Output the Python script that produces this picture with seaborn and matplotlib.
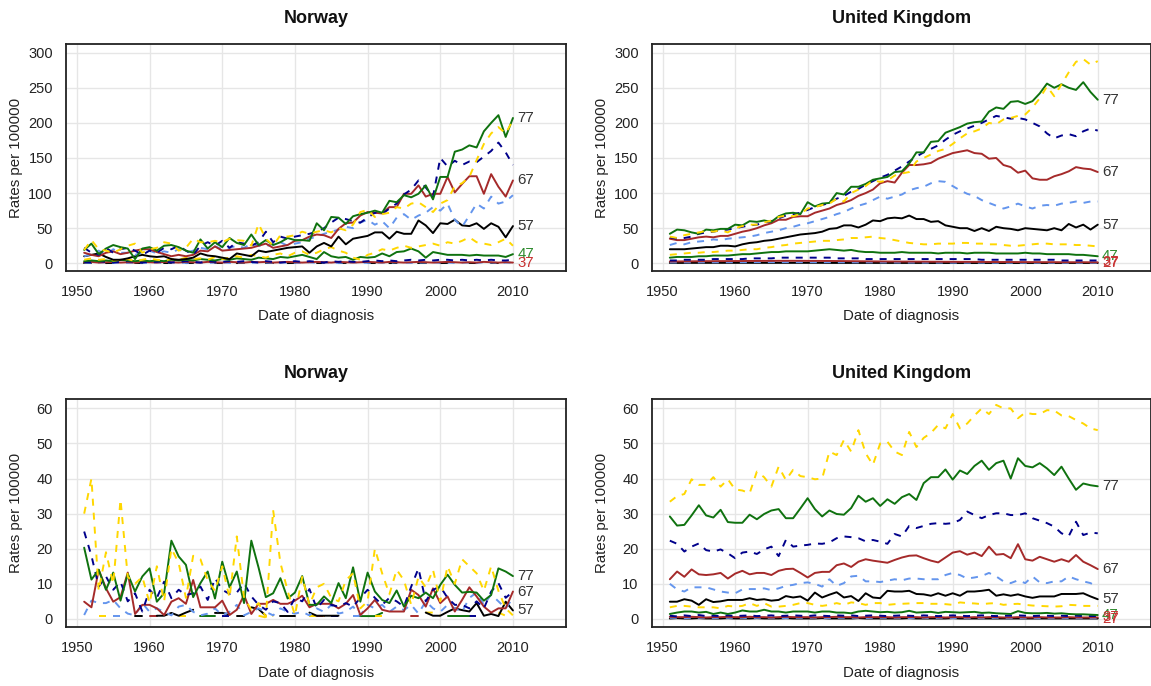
import numpy as np
import pandas as pd
import matplotlib
matplotlib.use("Agg")
import matplotlib.pyplot as plt
import seaborn as sns

nan = np.nan
YEARS = list(range(1951, 2011))
AGES = ["27", "32", "37", "42", "47", "52", "57", "62", "67", "72", "77", "82"]
LABELLED = ["77", "67", "57", "47", "37", "27"]

# ---------------- Norway, upper panel (rates per 100000) ----------------
nor_a_82 = [19, 33, 20, 18, 15, 20, 25, 28, 15, 20,
            22, 30, 28, 18, 22, 35, 30, 30, 32, 30,
            35, 33, 32, 25, 56, 35, 25, 40, 38, 40,
            45, 42, 45, 47, 44, 50, 47, 55, 73, 76,
            66, 70, 72, 80, 78, 85, 87, 80, 73, 85,
            90, 110, 114, 123, 147, 170, 185, 194, 185, 204]
nor_a_77 = [19, 28, 13, 21, 26, 23, 21, 6, 21, 23,
            18, 25, 26, 23, 18, 15, 34, 21, 30, 23,
            36, 29, 26, 41, 26, 33, 26, 30, 36, 33,
            33, 32, 57, 47, 66, 65, 56, 67, 70, 72,
            75, 72, 89, 87, 97, 94, 99, 111, 91, 123,
            123, 159, 162, 168, 165, 188, 200, 211, 180, 207]
nor_a_72 = [22, 15, 12, 22, 15, 20, 22, 18, 12, 18,
            15, 22, 20, 25, 18, 12, 25, 30, 25, 32,
            22, 30, 28, 25, 30, 45, 30, 38, 35, 38,
            40, 42, 45, 50, 58, 65, 63, 60, 58, 65,
            72, 70, 78, 85, 98, 105, 118, 108, 95, 150,
            138, 146, 140, 145, 144, 152, 160, 172, 158, 140]
nor_a_67 = [15, 12, 10, 15, 17, 13, 15, 18, 20, 20,
            16, 13, 10, 12, 10, 12, 18, 17, 24, 18,
            19, 20, 21, 22, 25, 28, 22, 24, 26, 32,
            33, 38, 41, 40, 36, 49, 57, 58, 68, 73,
            72, 71, 80, 80, 99, 99, 111, 95, 99, 99,
            123, 101, 113, 124, 124, 99, 127, 109, 95, 118]
nor_a_62 = [10, 13, 18, 12, 20, 15, 15, 12, 15, 18,
            14, 17, 15, 20, 15, 18, 22, 20, 24, 20,
            22, 25, 22, 28, 25, 24, 28, 30, 25, 28,
            30, 35, 38, 42, 45, 48, 52, 50, 58, 62,
            55, 60, 50, 65, 70, 62, 68, 72, 80, 75,
            85, 62, 52, 68, 85, 78, 95, 85, 88, 97]
nor_a_57 = [10, 12, 14, 9, 5, 5, 7, 10, 12, 10,
            9, 10, 6, 5, 6, 8, 14, 11, 10, 8,
            6, 14, 12, 10, 18, 16, 18, 20, 22, 23,
            24, 15, 24, 29, 24, 38, 27, 35, 37, 39,
            44, 44, 35, 45, 42, 42, 61, 54, 43, 57,
            56, 62, 54, 53, 57, 49, 57, 52, 37, 53]
nor_a_52 = [5, 7, 5, 6, 4, 5, 6, 3, 5, 7,
            5, 4, 6, 5, 8, 6, 7, 5, 9, 6,
            8, 10, 8, 12, 10, 8, 12, 14, 10, 15,
            17, 12, 15, 20, 23, 18, 15, 8, 5, 12,
            15, 20, 18, 22, 25, 22, 24, 26, 28, 25,
            30, 28, 32, 37, 30, 28, 26, 30, 35, 25]
nor_a_47 = [3, 4, 3, 4, 3, 5, 4, 3, 4, 3,
            4, 3, 5, 4, 5, 4, 6, 5, 4, 6,
            5, 7, 6, 5, 8, 7, 6, 9, 8, 10,
            12, 9, 6, 16, 10, 8, 9, 5, 9, 8,
            9, 14, 10, 16, 17, 21, 17, 8, 16, 14,
            12, 12, 12, 11, 12, 11, 11, 11, 9, 13]
nor_a_42 = [2, 1, 3, 2, 1, 2, 3, 2, 1, 2,
            2, 3, 1, 2, 3, 2, 1, 3, 2, 2,
            3, 2, 3, 2, 1, 3, 2, 1, 2, 3,
            2, 3, 2, 1, 3, 2, 3, 2, 2, 3,
            4, 3, 4, 3, 4, 5, 4, 5, 4, 5,
            5, 4, 5, 4, 5, 4, 5, 4, 4, 5]
nor_a_37 = [1.5, 2, 1, 1.5, 2, 1, 1.5, 1, 2, 1.5,
            1, 2, 1.5, 1, 2, 1.5, 1, 2, 1.5, 1,
            2, 1.5, 1, 2, 1.5, 2, 1, 1.5, 2, 1.5,
            1, 1.5, 2, 1.5, 1, 2, 1.5, 1, 1.5, 2,
            1.5, 1, 2, 1.5, 1, 1.5, 2, 1.5, 1, 1.5,
            2, 1.5, 1, 1.5, 1, 2, 1.5, 1, 1.5, 1]
nor_a_32 = [1, 0.5, 1, 1.5, 0.5, 1, 0.5, 1, 1, 0.5,
            1, 0.5, 1.5, 1, 0.5, 1, 1, 0.5, 1, 1.5,
            0.5, 1, 1, 0.5, 1.5, 1, 0.5, 1, 1, 0.5,
            1, 1.5, 0.5, 1, 1, 0.5, 1, 1.5, 1, 0.5,
            1, 1, 0.5, 1.5, 1, 0.5, 1, 1, 1.5, 0.5,
            1, 0.5, 1, 1, 0.5, 1.5, 1, 0.5, 1, 1]
nor_a_27 = [0.5, 0.5, nan, 0.3, 0.5, nan, nan, 0.5, 0.3, nan,
            nan, 0.5, 0.5, nan, 0.3, 0.5, nan, nan, 0.5, 0.5,
            nan, 0.3, 0.5, nan, nan, 0.5, 0.5, nan, 0.3, 0.5,
            nan, nan, 0.5, 0.5, nan, 0.3, 0.5, nan, nan, 0.5,
            0.5, nan, 0.3, 0.5, nan, nan, 0.5, 0.5, nan, 0.3,
            0.5, nan, nan, 0.5, 0.3, nan, 0.5, 0.5, nan, nan]

# ---------------- United Kingdom, upper panel ----------------
gbr_a_82 = [38, 36, 40, 42, 44, 46, 45, 47, 44, 50,
            53, 55, 55, 58, 61, 66, 68, 67, 70, 78,
            80, 83, 85, 92, 88, 100, 105, 110, 118, 116,
            118, 125, 128, 130, 145, 150, 155, 160, 163, 170,
            178, 185, 188, 192, 200, 198, 205, 207, 210, 212,
            222, 235, 252, 238, 255, 272, 287, 291, 283, 288]
gbr_a_77 = [42, 48, 47, 44, 42, 48, 47, 49, 49, 55,
            54, 60, 59, 61, 59, 67, 71, 72, 70, 87,
            81, 85, 86, 100, 98, 109, 109, 113, 119, 121,
            123, 130, 131, 142, 158, 158, 173, 174, 186, 190,
            194, 199, 201, 202, 216, 222, 220, 230, 231, 227,
            231, 242, 256, 250, 255, 250, 247, 258, 244, 233]
gbr_a_72 = [37, 35, 36, 38, 42, 44, 45, 47, 48, 50,
            52, 54, 55, 58, 60, 64, 68, 70, 72, 76,
            80, 83, 86, 92, 96, 102, 106, 112, 117, 122,
            126, 132, 138, 145, 152, 158, 163, 168, 176, 183,
            188, 192, 196, 200, 205, 210, 208, 206, 207, 205,
            200, 195, 185, 178, 182, 184, 181, 188, 192, 189]
gbr_a_67 = [35, 33, 33, 35, 37, 38, 37, 39, 39, 42,
            45, 47, 50, 54, 57, 62, 62, 66, 67, 67,
            72, 75, 78, 83, 86, 90, 96, 100, 105, 114,
            117, 115, 129, 140, 140, 141, 143, 149, 153, 157,
            159, 161, 157, 156, 149, 150, 140, 137, 129, 132,
            121, 119, 119, 124, 127, 131, 137, 135, 134, 130]
gbr_a_62 = [26, 29, 27, 30, 31, 32, 34, 33, 35, 36,
            37, 38, 40, 43, 45, 47, 50, 52, 55, 57,
            60, 63, 66, 70, 73, 78, 82, 85, 90, 95,
            92, 95, 98, 104, 107, 109, 114, 117, 116, 110,
            104, 99, 96, 90, 86, 82, 78, 81, 85, 81,
            78, 82, 83, 82, 85, 86, 88, 86, 88, 88]
gbr_a_57 = [20, 20, 20, 21, 22, 23, 23, 25, 25, 24,
            27, 29, 30, 32, 33, 35, 37, 39, 41, 42,
            43, 45, 49, 50, 54, 54, 51, 55, 61, 60,
            64, 65, 64, 68, 63, 63, 59, 60, 54, 52,
            50, 50, 46, 50, 46, 52, 50, 49, 47, 50,
            49, 48, 47, 50, 47, 56, 51, 55, 48, 55]
gbr_a_52 = [12, 13, 14, 15, 15, 16, 16, 17, 18, 18,
            19, 20, 20, 22, 23, 25, 26, 28, 29, 30,
            31, 32, 32, 33, 34, 36, 36, 37, 38, 36,
            35, 33, 31, 29, 28, 27, 27, 28, 28, 28,
            29, 29, 28, 28, 27, 27, 26, 25, 25, 26,
            27, 28, 28, 27, 27, 27, 26, 26, 25, 24]
gbr_a_47 = [8, 9, 9, 9, 10, 10, 11, 11, 11, 12,
            13, 13, 14, 15, 16, 16, 17, 17, 17, 17,
            18, 19, 20, 19, 18, 19, 17, 16, 16, 15,
            15, 15, 16, 15, 15, 15, 15, 14, 15, 15,
            15, 14, 15, 15, 15, 14, 14, 14, 14, 15,
            14, 14, 13, 13, 13, 13, 12, 12, 11, 10]
gbr_a_42 = [4, 4, 5, 5, 5, 5, 6, 6, 6, 6,
            6, 7, 7, 7, 7, 8, 8, 8, 8, 8,
            8, 8, 8, 7, 7, 7, 7, 6, 6, 6,
            6, 6, 6, 6, 6, 6, 6, 6, 6, 6,
            6, 6, 6, 5, 5, 5, 5, 5, 5, 5,
            5, 5, 5, 5, 4, 4, 4, 4, 4, 4]
gbr_a_37 = [2.5, 2.6, 2.7, 2.8, 2.9, 3.0, 3.0, 3.1, 3.1, 3.2,
            3.2, 3.3, 3.3, 3.4, 3.4, 3.5, 3.5, 3.5, 3.5, 3.4,
            3.4, 3.3, 3.3, 3.2, 3.1, 3.0, 2.9, 2.8, 2.7, 2.6,
            2.5, 2.5, 2.4, 2.4, 2.3, 2.3, 2.2, 2.2, 2.1, 2.1,
            2.0, 2.0, 2.0, 1.9, 1.9, 1.8, 1.8, 1.8, 1.7, 1.7,
            1.7, 1.6, 1.6, 1.6, 1.5, 1.5, 1.5, 1.5, 1.4, 1.4]
gbr_a_32 = [1.2, 1.2, 1.3, 1.3, 1.3, 1.4, 1.4, 1.4, 1.5, 1.5,
            1.5, 1.5, 1.6, 1.6, 1.6, 1.6, 1.6, 1.6, 1.6, 1.5,
            1.5, 1.5, 1.5, 1.4, 1.4, 1.4, 1.3, 1.3, 1.3, 1.2,
            1.2, 1.2, 1.1, 1.1, 1.1, 1.0, 1.0, 1.0, 1.0, 0.9,
            0.9, 0.9, 0.9, 0.9, 0.8, 0.8, 0.8, 0.8, 0.8, 0.8,
            0.8, 0.8, 0.8, 0.7, 0.7, 0.7, 0.7, 0.7, 0.7, 0.7]
gbr_a_27 = [0.5, 0.5, 0.5, 0.6, 0.6, 0.6, 0.6, 0.6, 0.6, 0.6,
            0.6, 0.6, 0.6, 0.6, 0.6, 0.6, 0.6, 0.6, 0.6, 0.6,
            0.6, 0.6, 0.5, 0.5, 0.5, 0.5, 0.5, 0.5, 0.5, 0.5,
            0.5, 0.5, 0.5, 0.5, 0.5, 0.5, 0.4, 0.4, 0.4, 0.4,
            0.4, 0.4, 0.4, 0.4, 0.4, 0.4, 0.4, 0.4, 0.4, 0.4,
            0.4, 0.4, 0.4, 0.4, 0.4, 0.4, 0.4, 0.4, 0.4, 0.4]

# ---------------- Norway, lower panel ----------------
nor_b_82 = [30, 40, 8, 19, 10, 34, 12, 10, 12, 4.5,
            15, 5, 20, 16, 6, 18, 17, 11, 8, 15,
            6, 23.5, 6, 2.6, 4.5, 0.5, 31, 16, 8, 1,
            12, 4, 9, 10, 6, 5, 11, 13, 3, 5,
            20, 13, 7, 14, 11, 4, 12, 9, 14, 5,
            15, 10, 17, 15, 13, 8, 15, 8, 3, 1]
nor_b_77 = [20.3, 11.2, 14, 8.3, 13.2, 5.2, 12.8, 7.8, 12.1, 14.4,
            4.9, 7.3, 22.3, 17.8, 15.4, 6.2, 10.2, 13.5, 5.8, 16.3,
            9, 13.5, 4.5, 22.3, 14.6, 6.2, 7.3, 11.6, 5.8, 7.5,
            12.2, 4, 4, 6.4, 4.5, 10.2, 5.9, 14.7, 4.9, 13.2,
            7.8, 5.4, 4.5, 8.1, 3.5, 6.6, 5.9, 7.5, 5.9, 9.7,
            12.6, 9.7, 7.5, 7.7, 7.5, 5.2, 6.8, 14.4, 13.5, 12.2]
nor_b_72 = [24.9, 18, 9.2, 12.1, 8.3, 10.6, 5, 7.3, 2.1, 8.3,
            6, 10.6, 5.9, 8.3, 6.8, 7.3, 9.2, 5.4, 11.6, 8.3,
            7.1, 7.5, 10.2, 6.4, 4, 2.6, 5, 4.5, 2, 6,
            5, 8.5, 3, 5.4, 4, 3.5, 4.5, 3.5, 6, 8.3,
            6, 4, 6, 5, 3.5, 9.2, 14.4, 5, 8.3, 9.2,
            6, 4, 4, 3, 5, 3, 7.8, 10.2, 6, 7.8]
nor_b_67 = [4.9, 3.3, 14, 8.7, 4.9, 6.2, 13.2, 1.4, 4, 4,
            3, 1.1, 4.9, 5.9, 4.3, 11.1, 3.3, 3.3, 3.3, 5.2,
            1.1, 2.6, 6.8, 1.4, 4.3, 4.3, 5.4, 4.3, 4.3, 5.2,
            6.6, 3.3, 4.3, 4.3, 4.3, 3, 4.3, 6.8, 1.1, 3,
            5.4, 2.6, 2.1, 2.1, 2.1, 8.3, 6.8, 3.5, 8.7, 4.5,
            6.4, 2.1, 5.4, 9, 6.4, 3.5, 1.8, 3, 3, 7.8]
nor_b_62 = [1.1, 5.2, 4.5, 4.5, 5.4, 3, 1.5, 1, 4.5, 2,
            3, 2, 1, 3.5, 4, 2, 1, 1.5, 3, 1,
            2, 4, 1, 2, 3, 2, 1, 3, 2, 1.5,
            2, 1, 3, 2, 4, 1.5, 2, 3.5, 1, 4,
            3, 4, 2, 3.5, 2.5, 4, 1.5, 5, 3, 2,
            4, 3, 2, 6, 7.5, 4, 7, 5, 3, 6]
nor_b_57 = [nan, nan, nan, nan, nan, nan, nan, 0.9, 0.9, nan,
            0.9, 0.9, 1.7, 0.9, 1.8, 2.6, nan, nan, 1.7, 1.7,
            1.3, nan, nan, 3.3, 2.8, 0.9, nan, 0.9, 0.9, 0.9,
            nan, 1.8, 0.9, 0.9, 0.9, 0.9, nan, nan, nan, nan,
            nan, nan, nan, nan, nan, nan, nan, 1.8, 0.9, 0.9,
            2, 3, 2.5, 2.1, 4.5, 0.9, 1.4, 0.8, 4.9, 2.4]
nor_b_52 = [nan, nan, 0.9, 0.9, nan, nan, nan, nan, nan, nan,
            nan, nan, nan, 0.9, 0.9, nan, nan, nan, nan, nan,
            nan, nan, nan, nan, 0.9, 0.4, 0.9, nan, nan, nan,
            nan, 0.9, 0.9, 0.9, nan, nan, nan, nan, nan, nan,
            0.9, 0.9, nan, nan, nan, nan, nan, 1.8, 1.8, 0.9,
            nan, nan, nan, nan, nan, nan, nan, 1.8, 0.9, nan]
nor_b_47 = [nan, nan, nan, nan, nan, nan, nan, nan, nan, nan,
            nan, nan, nan, nan, nan, nan, 0.8, 0.8, 0.8, nan,
            nan, nan, nan, nan, nan, nan, nan, nan, nan, nan,
            nan, nan, nan, nan, nan, nan, nan, nan, 0.8, 0.8,
            0.8, 1.7, nan, nan, nan, nan, nan, nan, nan, nan,
            0.8, 0.8, 0.8, 0.8, nan, nan, nan, nan, nan, nan]
nor_b_42 = [nan, nan, nan, nan, nan, nan, nan, nan, nan, nan,
            nan, nan, nan, nan, nan, nan, nan, nan, nan, 0.9,
            0.9, nan, nan, nan, nan, nan, nan, nan, nan, nan,
            nan, nan, nan, nan, 0.9, 0.9, nan, nan, nan, nan,
            nan, nan, nan, nan, nan, nan, nan, nan, nan, nan,
            nan, nan, nan, 0.9, 0.9, nan, nan, nan, nan, nan]
nor_b_37 = [nan, nan, nan, nan, nan, nan, nan, nan, nan, 0.9,
            0.9, nan, nan, nan, nan, nan, nan, nan, nan, nan,
            nan, nan, nan, nan, nan, nan, nan, nan, nan, nan,
            nan, nan, 0.9, 0.9, nan, nan, nan, nan, nan, nan,
            nan, nan, nan, nan, nan, 0.9, 0.9, nan, nan, nan,
            nan, nan, nan, nan, nan, nan, nan, nan, nan, nan]
nor_b_32 = [nan, nan, nan, nan, 0.9, 0.9, nan, nan, nan, nan,
            nan, nan, nan, nan, nan, nan, nan, nan, nan, nan,
            nan, nan, nan, nan, nan, nan, nan, nan, nan, nan,
            nan, nan, nan, nan, nan, nan, nan, 0.9, 0.9, nan,
            nan, nan, nan, nan, nan, nan, nan, nan, nan, nan,
            nan, nan, nan, nan, nan, nan, nan, nan, nan, nan]
nor_b_27 = [nan, nan, nan, nan, nan, nan, nan, nan, nan, nan,
            nan, nan, nan, nan, nan, nan, nan, nan, nan, nan,
            nan, 0.9, 0.9, nan, nan, nan, nan, nan, nan, nan,
            nan, nan, nan, nan, nan, nan, nan, nan, nan, nan,
            nan, nan, nan, nan, nan, nan, nan, nan, nan, nan,
            nan, nan, nan, nan, nan, nan, nan, nan, nan, nan]

# ---------------- United Kingdom, lower panel ----------------
gbr_b_82 = [33.4, 35.0, 35.6, 39.8, 38.2, 38.2, 40.4, 37.7, 39.8, 36.9,
            36.6, 35.8, 42.0, 40.4, 37.7, 43.4, 39.6, 42.5, 40.7, 40.4,
            39.8, 40.0, 47.7, 46.7, 51.0, 47.7, 53.8, 47.2, 43.9, 50.0,
            50.5, 47.7, 46.7, 53.3, 49.0, 51.6, 53.0, 55.3, 54.3, 58.4,
            54.3, 55.7, 58.0, 60.0, 58.4, 61.0, 60.0, 60.0, 57.2, 58.8,
            58.4, 58.4, 59.5, 59.4, 58.0, 57.8, 56.7, 55.7, 54.3, 53.8]
gbr_b_77 = [29.2, 26.6, 26.8, 29.5, 32.4, 29.5, 28.9, 31.1, 27.6, 27.4,
            27.4, 29.7, 28.4, 29.9, 30.9, 31.3, 28.7, 28.7, 31.5, 34.4,
            31.3, 29.2, 30.9, 29.9, 29.7, 31.6, 35.1, 33.4, 34.4, 32.2,
            34.1, 32.8, 34.7, 35.6, 33.9, 38.7, 40.4, 40.4, 42.6, 39.7,
            42.3, 41.3, 43.6, 45.1, 42.5, 44.4, 45.1, 40.0, 45.8, 43.6,
            43.2, 44.4, 42.9, 41.0, 43.4, 40.0, 36.8, 38.6, 38.1, 37.8]
gbr_b_72 = [22.3, 21.4, 19.2, 20.6, 21.5, 19.6, 19.2, 19.8, 18.7, 17.3,
            18.9, 19.2, 18.5, 19.8, 20.6, 17.9, 22.5, 20.6, 20.9, 21.1,
            21.5, 21.4, 21.8, 23.0, 23.5, 23.3, 23.0, 22.1, 22.5, 22.0,
            21.4, 24.2, 23.5, 26.5, 25.9, 26.5, 27.1, 27.3, 27.1, 27.3,
            28.2, 30.6, 29.6, 28.7, 29.6, 30.1, 30.1, 29.6, 29.6, 30.1,
            28.7, 28.0, 27.3, 26.3, 24.4, 23.6, 27.7, 23.9, 24.6, 24.4]
gbr_b_67 = [11.3, 13.5, 12.0, 14.1, 12.7, 12.5, 12.7, 13.1, 11.5, 12.9,
            13.7, 12.7, 13.1, 13.1, 12.5, 13.7, 14.2, 14.3, 13.1, 11.8,
            13.1, 13.4, 13.4, 15.3, 15.8, 14.8, 16.3, 17.0, 16.6, 16.3,
            16.0, 16.8, 17.5, 18.0, 18.1, 17.3, 16.6, 16.1, 17.5, 18.9,
            19.3, 18.3, 18.9, 17.9, 20.6, 18.3, 18.5, 17.3, 21.3, 17.0,
            16.6, 17.7, 17.0, 16.3, 17.0, 16.3, 18.2, 16.3, 15.3, 14.2]
gbr_b_62 = [10.0, 8.4, 7.8, 9.0, 9.0, 9.0, 8.4, 7.8, 7.5, 7.3,
            8.4, 8.5, 8.5, 8.7, 8.2, 8.7, 9.4, 9.7, 10.2, 10.4,
            10.0, 9.2, 11.3, 9.4, 10.2, 12.1, 12.3, 10.7, 10.7, 10.5,
            10.9, 11.3, 11.0, 11.5, 11.5, 11.3, 11.3, 11.3, 12.5, 13.1,
            12.5, 11.5, 11.8, 12.2, 13.1, 12.1, 10.7, 10.2, 11.0, 10.2,
            12.1, 10.4, 10.2, 10.7, 10.7, 12.1, 11.3, 10.7, 10.2, 9.0]
gbr_b_57 = [4.9, 4.9, 5.6, 5.2, 4.0, 5.6, 4.8, 5.0, 5.4, 5.4,
            5.4, 5.9, 5.4, 5.6, 5.2, 5.4, 6.5, 6.1, 6.4, 5.2,
            7.5, 6.1, 6.9, 7.6, 6.1, 6.5, 5.1, 7.3, 6.1, 5.9,
            8.0, 7.8, 7.8, 8.0, 7.1, 7.0, 6.6, 7.3, 6.6, 7.3,
            6.6, 7.8, 7.8, 8.0, 8.3, 6.6, 7.0, 6.6, 7.0, 6.4,
            6.0, 6.4, 6.4, 6.4, 7.1, 7.1, 7.1, 7.3, 6.4, 5.6]
gbr_b_52 = [3.3, 3.7, 3.7, 3.5, 3.3, 3.3, 3.3, 3.0, 3.7, 3.5,
            3.7, 4.5, 3.7, 4.5, 3.5, 3.5, 3.7, 4.0, 4.5, 4.5,
            4.0, 3.7, 4.0, 4.5, 4.0, 4.7, 4.5, 4.0, 4.5, 4.5,
            4.0, 4.2, 4.3, 4.4, 4.5, 4.5, 4.3, 4.3, 4.2, 4.0,
            4.7, 4.5, 4.4, 4.2, 4.4, 4.5, 4.0, 4.2, 4.3, 4.0,
            3.8, 3.7, 3.6, 3.5, 3.6, 4.0, 3.9, 3.7, 3.7, 3.7]
gbr_b_47 = [1.4, 1.8, 2.1, 2.1, 1.8, 2.0, 1.4, 1.8, 1.4, 1.8,
            2.4, 2.1, 2.1, 2.6, 2.1, 2.1, 1.8, 2.1, 2.1, 2.1,
            1.8, 2.1, 2.1, 1.8, 1.8, 1.6, 2.1, 2.3, 2.1, 1.9,
            2.0, 1.8, 1.9, 2.3, 1.8, 1.9, 2.0, 1.7, 2.0, 1.9,
            1.8, 1.9, 2.0, 1.7, 1.8, 1.6, 1.5, 1.4, 2.2, 1.7,
            1.6, 1.6, 1.7, 1.5, 1.6, 1.4, 1.3, 1.3, 1.2, 1.1]
gbr_b_42 = [0.9, 0.7, 1.0, 0.8, 1.1, 0.8, 0.9, 0.8, 1.0, 0.8,
            0.9, 1.0, 0.8, 0.9, 1.0, 0.8, 0.9, 1.0, 0.9, 0.8,
            1.0, 0.9, 0.8, 1.0, 0.9, 1.0, 0.8, 0.9, 1.0, 0.9,
            0.8, 0.9, 1.0, 0.9, 0.8, 1.0, 0.9, 0.8, 0.9, 1.0,
            0.9, 0.8, 0.9, 1.0, 0.9, 0.8, 0.9, 0.9, 1.0, 0.9,
            0.8, 0.9, 0.9, 0.8, 0.9, 0.8, 0.9, 0.8, 0.8, 0.8]
gbr_b_37 = [0.6, 0.5, 0.5, 0.6, 0.5, 0.4, 0.5, 0.5, 0.6, 0.5,
            0.5, 0.6, 0.5, 0.5, 0.4, 0.5, 0.6, 0.5, 0.5, 0.5,
            0.4, 0.5, 0.5, 0.6, 0.5, 0.5, 0.4, 0.5, 0.5, 0.5,
            0.5, 0.4, 0.5, 0.5, 0.5, 0.4, 0.5, 0.5, 0.4, 0.5,
            0.5, 0.4, 0.5, 0.4, 0.5, 0.5, 0.4, 0.4, 0.5, 0.4,
            0.4, 0.5, 0.4, 0.4, 0.4, 0.5, 0.4, 0.4, 0.4, 0.4]
gbr_b_32 = [0.3, 0.3, 0.2, 0.3, 0.3, 0.3, 0.2, 0.3, 0.3, 0.3,
            0.3, 0.2, 0.3, 0.3, 0.3, 0.3, 0.2, 0.3, 0.3, 0.3,
            0.3, 0.3, 0.2, 0.3, 0.3, 0.3, 0.3, 0.2, 0.3, 0.3,
            0.3, 0.3, 0.3, 0.2, 0.3, 0.3, 0.2, 0.3, 0.3, 0.2,
            0.3, 0.2, 0.3, 0.2, 0.2, 0.3, 0.2, 0.2, 0.2, 0.2,
            0.2, 0.2, 0.2, 0.2, 0.2, 0.2, 0.2, 0.2, 0.2, 0.2]
gbr_b_27 = [0.1, 0.2, 0.1, 0.1, 0.2, 0.1, 0.1, 0.1, 0.2, 0.1,
            0.1, 0.1, 0.2, 0.1, 0.1, 0.1, 0.2, 0.1, 0.1, 0.1,
            0.1, 0.2, 0.1, 0.1, 0.1, 0.1, 0.2, 0.1, 0.1, 0.1,
            0.1, 0.1, 0.1, 0.2, 0.1, 0.1, 0.1, 0.1, 0.1, 0.2,
            0.1, 0.1, 0.1, 0.1, 0.1, 0.1, 0.1, 0.1, 0.1, 0.1,
            0.1, 0.1, 0.1, 0.1, 0.1, 0.1, 0.1, 0.1, 0.1, 0.1]

# ---------------- styling ----------------
LINE_COLORS = {"27": "#000000", "32": "#6495ED", "37": "#A52A2A", "42": "#00008B",
               "47": "#0F720F", "52": "#FFD700", "57": "#000000", "62": "#6495ED",
               "67": "#A52A2A", "72": "#00008B", "77": "#0F720F", "82": "#FFD700"}
DASH = (3.6, 3.6)
LINE_DASHES = {a: ("" if int(a) % 10 == 7 else DASH) for a in AGES}
LABEL_COLORS = {"77": "#333333", "67": "#333333", "57": "#333333",
                "47": "#2E8B2E", "37": "#C83232", "27": "#C83232"}

sns.set_theme(style="white")
plt.rcParams["font.family"] = ["Liberation Sans", "DejaVu Sans"]
INK = "#222222"


def long_form(series):
    """Stack the age-group series; runs without data become separate line units."""
    rows = []
    for age, values in series.items():
        seg, gap = 0, True
        for year, v in zip(YEARS, values):
            if v is None or np.isnan(v):
                gap = True
                continue
            if gap:
                seg += 1
                gap = False
            rows.append({"year": year, "rate": v, "age": age, "seg": f"{age}_{seg}"})
    return pd.DataFrame(rows)


def draw_panel(ax, title, series, ylim, yticks):
    df = long_form(series)
    ax.grid(True, color="#E6E6E6", linewidth=1.0)
    ax.set_axisbelow(True)
    sns.lineplot(data=df, x="year", y="rate", hue="age", style="age", units="seg",
                 estimator=None, hue_order=AGES, style_order=AGES,
                 palette=LINE_COLORS, dashes=LINE_DASHES, linewidth=1.4,
                 legend=False, ax=ax)
    ax.set_xlim(1948.5, 2017.3)
    ax.set_ylim(*ylim)
    ax.set_xticks(range(1950, 2011, 10))
    ax.set_yticks(yticks)
    ax.set_title(title, fontsize=13, fontweight="bold", color="#111111", pad=15)
    ax.set_xlabel("Date of diagnosis", fontsize=10.8, color=INK, labelpad=7.6)
    ax.set_ylabel("Rates per 100000", fontsize=10.8, color=INK)
    ax.yaxis.set_label_coords(-0.085, 0.5)
    ax.tick_params(axis="both", direction="out", length=4.8, width=1.1, color=INK,
                   labelsize=10.5, labelcolor=INK)
    ax.tick_params(axis="x", pad=5.2)
    ax.tick_params(axis="y", pad=4.6)
    for sp in ax.spines.values():
        sp.set_color(INK)
        sp.set_linewidth(1.3)
    # end-of-line age labels
    for age in LABELLED:
        last = series[age][-1]
        if last is None or np.isnan(last):
            continue
        ax.text(2010.6, last, age, fontsize=10.8, color=LABEL_COLORS[age],
                ha="left", va="center", clip_on=False)


def as_dict(prefix):
    g = globals()
    return {a: g[f"{prefix}_{a}"] for a in AGES}


fig = plt.figure(figsize=(11.51, 6.86), dpi=100)
W, H = 1151.0, 686.0
ax_tl = fig.add_axes([66 / W, 1 - 271 / H, 500 / W, 227 / H])
ax_tr = fig.add_axes([651.7 / W, 1 - 271 / H, 499 / W, 227 / H])
ax_bl = fig.add_axes([66 / W, 1 - 627.3 / H, 500 / W, 228 / H])
ax_br = fig.add_axes([651.7 / W, 1 - 627.3 / H, 499 / W, 228 / H])

draw_panel(ax_tl, "Norway", as_dict("nor_a"), (-11, 312.4), range(0, 301, 50))
draw_panel(ax_tr, "United Kingdom", as_dict("gbr_a"), (-11, 312.4), range(0, 301, 50))
draw_panel(ax_bl, "Norway", as_dict("nor_b"), (-2.4, 62.6), range(0, 61, 10))
draw_panel(ax_br, "United Kingdom", as_dict("gbr_b"), (-2.4, 62.6), range(0, 61, 10))

fig.savefig("out.png", dpi=100)
